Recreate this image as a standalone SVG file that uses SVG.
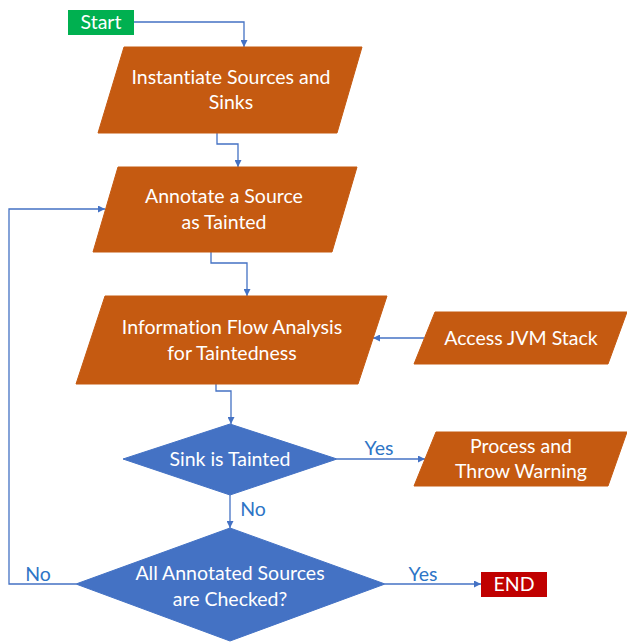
<svg xmlns="http://www.w3.org/2000/svg" width="627" height="643" viewBox="0 0 627 643">
<style>
.io{fill:#C55A11;stroke:#C55A11;stroke-width:1}
.dec{fill:#4472C4;stroke:#4472C4;stroke-width:1}
.t{font-family:Lato,"Liberation Sans",sans-serif;font-size:19.5px;fill:#ffffff;text-anchor:middle;font-variant-ligatures:none}
.lbl{font-family:Lato,"Liberation Sans",sans-serif;font-size:19.5px;fill:#2E75C6;text-anchor:middle}
.c{fill:none;stroke:#4472C4;stroke-width:1.3}
</style>
<defs>
<marker id="ah" viewBox="0 0 10 10" refX="10" refY="5" markerWidth="7" markerHeight="7" markerUnits="userSpaceOnUse" orient="auto">
<path d="M0,0 L10,5 L0,10 z" fill="#4472C4"/>
</marker>
</defs>
<rect width="627" height="643" fill="#ffffff"/>
<g id="connectors">
<polyline class="c" points="134,22 244,22 244,47" marker-end="url(#ah)"/>
<polyline class="c" points="217,133 217,144 238,144 238,167" marker-end="url(#ah)"/>
<polyline class="c" points="211,252 211,263 247,263 247,296" marker-end="url(#ah)"/>
<polyline class="c" points="424,338 373,338" marker-end="url(#ah)"/>
<polyline class="c" points="216,384 216,391 231,391 231,424" marker-end="url(#ah)"/>
<polyline class="c" points="337,459 425,459" marker-end="url(#ah)"/>
<polyline class="c" points="230,495 230,528" marker-end="url(#ah)"/>
<polyline class="c" points="385,584 481,584" marker-end="url(#ah)"/>
<polyline class="c" points="76,584 9,584 9,209 105,209" marker-end="url(#ah)"/>
<text class="lbl" x="379" y="455">Yes</text>
<text class="lbl" x="253" y="516">No</text>
<text class="lbl" x="38" y="581">No</text>
<text class="lbl" x="423" y="581">Yes</text>
</g>
<g id="start">
<rect x="68" y="10" width="66" height="25" fill="#00B050"/>
<text class="t" x="101" y="29">Start</text>
</g>
<g id="instantiate">
<polygon class="io" points="124,47 362,47 337,133 98,133"/>
<text class="t" x="231" y="84">Instantiate Sources and</text>
<text class="t" x="231" y="109">Sinks</text>
</g>
<g id="annotate">
<polygon class="io" points="118,167 357,167 332,252 93,252"/>
<text class="t" x="224" y="203">Annotate a Source</text>
<text class="t" x="224" y="229">as Tainted</text>
</g>
<g id="infoflow">
<polygon class="io" points="105,296 387,296 358,384 76,384"/>
<text class="t" x="232" y="334">Information Flow Analysis</text>
<text class="t" x="232" y="360">for Taintedness</text>
</g>
<g id="jvm">
<polygon class="io" points="435,312 627,312 608,364 414,364"/>
<text class="t" x="521" y="345">Access JVM Stack</text>
</g>
<g id="sink">
<polygon class="dec" points="230,424 337,459 230,495 123,459"/>
<text class="t" x="230" y="466">Sink is Tainted</text>
</g>
<g id="process">
<polygon class="io" points="436,432 627,432 608,486 414,486"/>
<text class="t" x="521" y="453">Process and</text>
<text class="t" x="521" y="478">Throw Warning</text>
</g>
<g id="checked">
<polygon class="dec" points="230,528 385,584 230,641 76,584"/>
<text class="t" x="230" y="580">All Annotated Sources</text>
<text class="t" x="230" y="606">are Checked?</text>
</g>
<g id="end">
<rect x="481" y="572" width="66" height="25" fill="#C00000"/>
<text class="t" x="514" y="591">END</text>
</g>
</svg>
